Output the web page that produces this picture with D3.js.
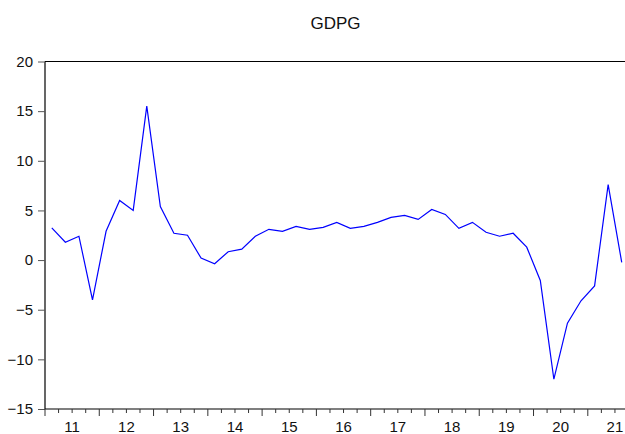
<!DOCTYPE html>
<html><head><meta charset="utf-8">
<script src="https://cdn.jsdelivr.net/npm/d3@7"></script>
<style>body{margin:0;background:#fff}svg{display:block}</style>
</head><body>
<script>
const title = "GDPG";
const startYear = 2011;
const values = [3.25, 1.8, 2.4, -4.0, 2.9, 6.0, 5.0, 15.5, 5.4, 2.7, 2.5, 0.2,
  -0.37, 0.84, 1.1, 2.4, 3.1, 2.9, 3.4, 3.1, 3.3, 3.8, 3.2, 3.4,
  3.8, 4.3, 4.5, 4.1, 5.1, 4.6, 3.2, 3.8, 2.8, 2.4, 2.7, 1.3,
  -2.05, -12.0, -6.35, -4.1, -2.6, 7.6, -0.23];
const yTicks = [-15, -10, -5, 0, 5, 10, 15, 20];
const yearLabels = ["11","12","13","14","15","16","17","18","19","20","21"];

const W = 625, H = 434;
const mLeft = 45, mTop = 61.5, mBottom = 409;
const q = 13.57;
const svg = d3.select("body").append("svg").attr("width", W).attr("height", H);
const font = "Arial, 'Liberation Sans', sans-serif";

const x = d3.scaleLinear().domain([0, values.length]).range([mLeft, mLeft + values.length * q]);
const y = d3.scaleLinear().domain([-15, 20]).range([mBottom, mTop]);

// top border
svg.append("line").attr("x1", mLeft).attr("x2", W).attr("y1", y(20)).attr("y2", y(20))
  .attr("stroke", "#000").attr("stroke-width", 1.2);

// y axis
const yAxis = d3.axisLeft(y).tickValues(yTicks).tickSize(7).tickPadding(5).tickFormat(d3.format("d"));
const gy = svg.append("g").attr("transform", `translate(${mLeft},0)`).call(yAxis);
gy.select(".domain").attr("stroke", "#000").attr("stroke-width", 1.2).attr("d", `M0,${mTop}V${mBottom}`);
gy.selectAll(".tick line").attr("stroke", "#555");
gy.selectAll("text").attr("font-family", font).attr("font-size", 15).attr("fill", "#111");

// x axis: quarter ticks
const qTicks = d3.range(0, values.length + 1);
const gx = svg.append("g").attr("transform", `translate(0,${mBottom})`);
gx.append("line").attr("x1", mLeft).attr("x2", W).attr("stroke", "#000").attr("stroke-width", 1.2);
gx.selectAll("line.t").data(qTicks).join("line").attr("class", "t")
  .attr("x1", d => x(d)).attr("x2", d => x(d)).attr("y1", 0)
  .attr("y2", d => d % 4 === 0 ? 7 : 4).attr("stroke", "#333");
gx.selectAll("text").data(yearLabels).join("text")
  .attr("x", (d, i) => x(i * 4 + 2)).attr("y", 22.5).attr("text-anchor", "middle")
  .attr("font-family", font).attr("font-size", 15).attr("fill", "#111").text(d => d);

// line
const line = d3.line().x((d, i) => x(i + 0.5)).y(d => y(d));
svg.append("path").datum(values).attr("d", line).attr("fill", "none")
  .attr("stroke", "#0000ff").attr("stroke-width", 1.2);

// title
svg.append("text").attr("x", 335.5).attr("y", 29).attr("text-anchor", "middle")
  .attr("font-family", font).attr("font-size", 17).attr("fill", "#111").text(title);
</script>
</body></html>
